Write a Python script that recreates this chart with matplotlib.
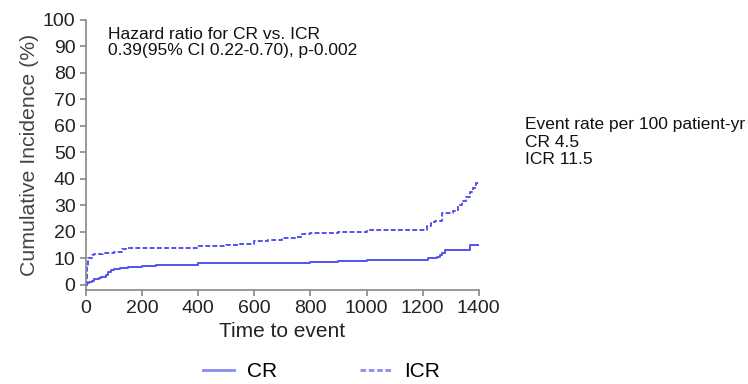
import matplotlib
matplotlib.use("Agg")
import matplotlib.pyplot as plt
from matplotlib.lines import Line2D

plt.rcParams['font.family'] = ['Liberation Sans', 'DejaVu Sans']

cr_t = [0, 5, 10, 20, 30, 45, 55, 65, 72, 80, 90, 100, 120, 150, 200, 250, 300, 400, 600, 700, 800, 900, 1000, 1200, 1220, 1250, 1262, 1270, 1280, 1360, 1368, 1400]
cr_y = [0, 0.5, 0.9, 1.5, 2.0, 2.4, 2.7, 3.0, 3.8, 4.8, 5.5, 6.0, 6.4, 6.8, 7.0, 7.3, 7.6, 8.0, 8.1, 8.3, 8.6, 9.0, 9.3, 9.3, 10.0, 10.4, 11.3, 12.0, 13.0, 13.0, 14.8, 14.8]

icr_t = [0, 3, 8, 20, 30, 60, 100, 130, 150, 300, 400, 500, 550, 600, 650, 700, 750, 770, 800, 900, 1000, 1200, 1215, 1230, 1245, 1270, 1280, 1310, 1325, 1340, 1355, 1370, 1380, 1390, 1400]
icr_y = [0, 7, 10, 11.2, 11.5, 12.0, 12.5, 13.5, 14.0, 14.0, 14.5, 15.0, 15.5, 16.3, 17.0, 17.5, 18.0, 19.3, 19.5, 20.0, 20.5, 20.5, 22.0, 23.5, 24.0, 27.0, 27.0, 28.0, 30.0, 31.5, 33.0, 35.0, 36.5, 38.5, 38.5]

color = '#5353f0'
legend_color = '#8a8af2'

fig = plt.figure(figsize=(7.48, 3.84), dpi=100)
ax = fig.add_axes([0.115, 0.245, 0.525, 0.703])
ax.step(cr_t, cr_y, where='post', color=color, lw=1.4, label='CR')
ax.step(icr_t, icr_y, where='post', color=color, lw=1.4, ls=(0, (2.5, 1.2)), label='ICR')

ax.set_xlim(0, 1400)
ax.set_ylim(-2, 100)
ax.set_xticks(range(0, 1401, 200))
ax.set_yticks(range(0, 101, 10))
for s in ['top', 'right']:
    ax.spines[s].set_visible(False)
for s in ['left', 'bottom']:
    ax.spines[s].set_color('#888888')
    ax.spines[s].set_linewidth(1.2)
ax.spines['left'].set_bounds(-2, 100)
ax.tick_params(colors='#888888', labelcolor='#222222', labelsize=14, length=4, width=1.2)
ax.set_xlabel('Time to event', fontsize=15, color='#222222', labelpad=3)
ax.set_ylabel('Cumulative Incidence (%)', fontsize=15.3, color='#444444', labelpad=3)

ax.text(0.055, 0.975, 'Hazard ratio for CR vs. ICR\n0.39(95% CI 0.22-0.70), p-0.002',
        transform=ax.transAxes, fontsize=12.5, va='top', ha='left', color='#111111', linespacing=1.12)

fig.text(0.702, 0.695, 'Event rate per 100 patient-yr\nCR 4.5\nICR 11.5', fontsize=12.5,
         va='top', ha='left', color='#111111', linespacing=1.22)

handles = [Line2D([], [], color=legend_color, lw=2), Line2D([], [], color=legend_color, lw=2, ls=(0, (2.0, 1.0)))]
fig.legend(handles, ['CR', 'ICR'], loc='center', bbox_to_anchor=(0.43, 0.032), ncol=2, frameon=False,
           fontsize=15, handlelength=1.5, columnspacing=4.0, handletextpad=0.6)

fig.savefig('out.png', dpi=100)
